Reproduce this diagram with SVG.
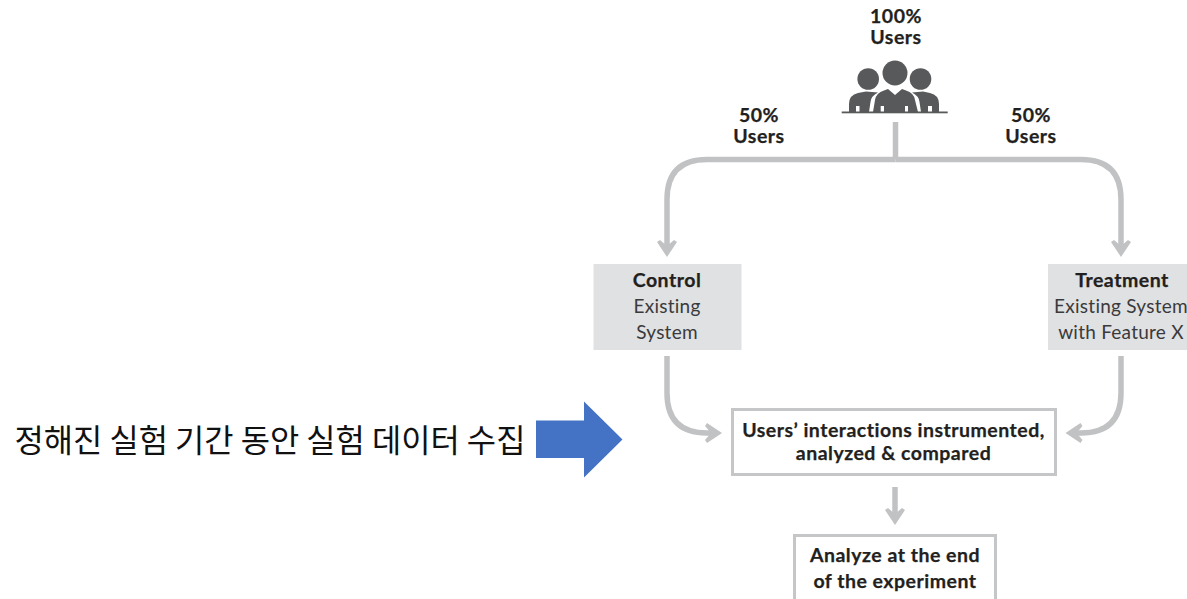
<svg xmlns="http://www.w3.org/2000/svg" width="1187" height="599" viewBox="0 0 1187 599">
<style>
text{font-family:"Lato","Noto Sans",sans-serif;text-anchor:middle;fill:#231f20}
.b{font-weight:700;font-size:19.500px;letter-spacing:.5px;stroke:#231f20;stroke-width:.25px}
.r{font-size:19px;letter-spacing:.25px;fill:#3a3a3c}
.c{fill:none;stroke:#c1c2c3;stroke-width:5.500}
.g{fill:#e0e1e2}
.o{fill:#fff;stroke:#c5c6c7;stroke-width:3}
.i{fill:#58595b}
</style>
<defs>
<marker id="ah" markerUnits="userSpaceOnUse" markerWidth="24" markerHeight="24" refX="12" refY="10" orient="auto" viewBox="0 0 24 24">
<path d="M0 3L2 0L17 10L2 20L0 17L6 10Z" fill="#c1c2c3"/>
</marker>
</defs>
<rect width="1187" height="599" fill="#fff"/>
<g id="connectors">
<path class="c" d="M895.500 122V159.500"/>
<path class="c" d="M895.500 159.500H707Q667 159.500 667 199.500V252" marker-end="url(#ah)"/>
<path class="c" d="M895.500 159.500H1081Q1121 159.500 1121 199.500V252" marker-end="url(#ah)"/>
<path class="c" d="M667 356V393Q667 433 707 433H717" marker-end="url(#ah)"/>
<path class="c" d="M1121 356V393Q1121 433 1081 433H1070.500" marker-end="url(#ah)"/>
<path class="c" d="M895 487V520" marker-end="url(#ah)"/>
</g>
<g id="users-100">
<text class="b" x="896" y="23">100%</text>
<text class="b" x="896" y="44">Users</text>
<circle class="i" cx="895" cy="73" r="12.500"/>
<circle class="i" cx="868.200" cy="79" r="10.800"/>
<circle class="i" cx="920.500" cy="79" r="10.800"/>
<path class="i" d="M849 112V104Q849 95 858 93L866 91.500L878 92.500Q871 96 870.500 102L869 112H859.500V106H856V112Z"/>
<path class="i" d="M939 112V104Q939 95 930 93L923 91.500L912 92.500Q919 96 919.500 102L921 112H928V106H932V112Z"/>
<path class="i" d="M873 112L875 100Q876 93 884 90.500L888 89L895 95L902 89L906 90.500Q914 93 915 100L918 112H908V106H905V112H884V106H880.700V112Z"/>
<rect x="841.700" y="111.500" width="106" height="1.800" fill="#58595b"/>
</g>
<g id="users-50-left">
<text class="b" x="759" y="122">50%</text>
<text class="b" x="759" y="143">Users</text>
</g>
<g id="users-50-right">
<text class="b" x="1031" y="122">50%</text>
<text class="b" x="1031" y="143">Users</text>
</g>
<g id="control">
<rect class="g" x="593.500" y="264" width="148" height="86"/>
<text class="b" x="667" y="287">Control</text>
<text class="r" x="667" y="313">Existing</text>
<text class="r" x="667" y="338.500">System</text>
</g>
<g id="treatment">
<rect class="g" x="1048" y="264" width="139" height="86"/>
<text class="b" x="1122" y="287">Treatment</text>
<text class="r" x="1121" y="313">Existing System</text>
<text class="r" x="1121" y="338.500">with Feature X</text>
</g>
<g id="instrumented">
<rect class="o" x="732.500" y="409.500" width="323" height="65"/>
<text class="b" x="893.500" y="436.500">Users’ interactions instrumented,</text>
<text class="b" x="893.500" y="459.500">analyzed &amp; compared</text>
</g>
<g id="analyze">
<rect class="o" x="794.500" y="535.500" width="201" height="66"/>
<text class="b" x="895" y="561.500">Analyze at the end</text>
<text class="b" x="895" y="587.500">of the experiment</text>
</g>
<g id="collection">
<text x="270" y="452" style="font-family:'Noto Sans CJK KR','Noto Sans',sans-serif;font-size:31.800px;fill:#111;font-weight:400">정해진 실험 기간 동안 실험 데이터 수집</text>
<path d="M536 420.500H584V401.500L622.500 439.500L584 477.500V458H536Z" fill="#4472c4"/>
</g>
</svg>
